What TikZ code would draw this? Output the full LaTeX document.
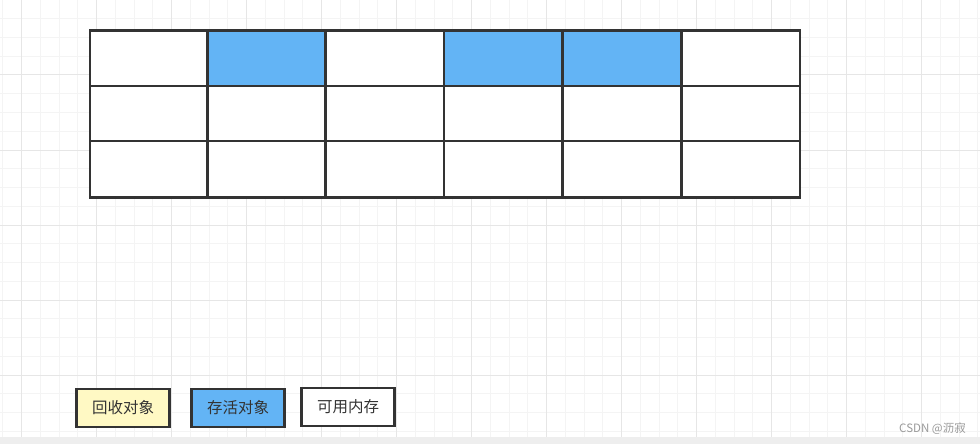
\documentclass[tikz,border=0pt]{standalone}
\usepackage{fontspec}
\newfontfamily\cjk{Noto Sans CJK SC}
\definecolor{ink}{HTML}{333333}
\definecolor{live}{HTML}{63B4F5}
\definecolor{dead}{HTML}{FFF9C4}
\definecolor{gminor}{HTML}{F4F4F4}
\definecolor{gmajor}{HTML}{E6E6E6}
\definecolor{band}{HTML}{EEEEEE}
\definecolor{mark}{HTML}{9A9A9A}
\tikzset{
  cell/.style={draw=ink, line width=2.8pt, fill=white, rectangle, inner sep=0pt, outer sep=0pt, anchor=north west},
  legendbox/.style={draw=ink, line width=2.5pt, rectangle, inner sep=0pt, outer sep=0pt, minimum width=93pt, minimum height=38pt, anchor=north west, font=\cjk\fontsize{15.5}{17}\selectfont, text=ink},
}
\begin{document}
\begin{tikzpicture}[x=1pt,y=-1pt]
\useasboundingbox (0,0) rectangle (980,444);
\fill[white] (0,0) rectangle (980,444);
% grid
\foreach \k in {0,...,52} {
  \pgfmathsetmacro{\xx}{2.95+18.75*\k}
  \draw[gminor, line width=1pt] (\xx,0) -- (\xx,437);
}
\foreach \k in {0,...,23} {
  \pgfmathsetmacro{\yy}{18.75*\k}
  \draw[gminor, line width=1pt] (0,\yy) -- (980,\yy);
}
\foreach \k in {0,...,13} {
  \pgfmathsetmacro{\xx}{21.7+75*\k}
  \draw[gmajor, line width=1pt] (\xx,0) -- (\xx,437);
}
\foreach \yy in {0,75,150,225,300,375} {
  \draw[gmajor, line width=1pt] (0,\yy) -- (980,\yy);
}
\fill[band] (0,437) rectangle (980,444);
% table cells
\def\colx{{90,207.5,325.5,444,562.5,681.5,800}}
\def\rowy{{30.5,86,141,197.5}}
\foreach \c in {0,...,5} {
  \foreach \r in {0,1,2} {
    \pgfmathsetmacro{\xa}{\colx[\c]}
    \pgfmathsetmacro{\xb}{\colx[\c+1]}
    \pgfmathsetmacro{\ya}{\rowy[\r]}
    \pgfmathsetmacro{\yb}{\rowy[\r+1]}
    \node[cell, minimum width={(\xb-\xa)*1pt}, minimum height={(\yb-\ya)*1pt}] (c-\r-\c) at (\xa,\ya) {};
  }
}
\node[cell, fill=live, minimum width=118pt, minimum height=55.5pt] (b1) at (207.5,30.5) {};
\node[cell, fill=live, minimum width=118.5pt, minimum height=55.5pt] (b2) at (444,30.5) {};
\node[cell, fill=live, minimum width=119pt, minimum height=55.5pt] (b3) at (562.5,30.5) {};
% legend
\node[legendbox, fill=dead] (l1) at (76.5,389) {回收对象};
\node[legendbox, fill=live] (l2) at (191.5,389) {存活对象};
\node[legendbox, fill=white] (l3) at (301.5,388) {可用内存};
% watermark
\node[anchor=east, inner sep=0pt, text=mark, font=\cjk\fontsize{11.5}{12}\selectfont] (wm) at (966,429) {CSDN @沥寂};
\end{tikzpicture}
\end{document}
